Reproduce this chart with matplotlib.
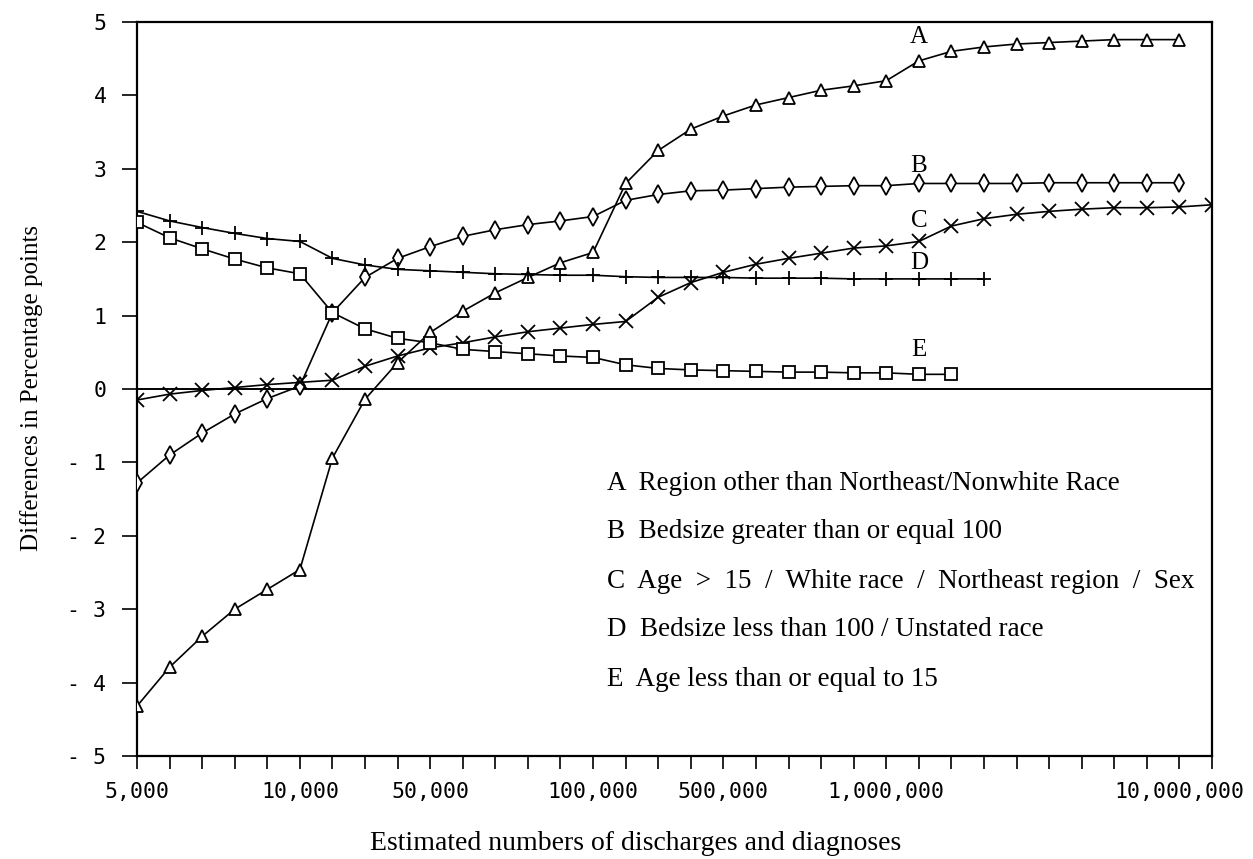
import numpy as np
import matplotlib
matplotlib.use("Agg")
import matplotlib.pyplot as plt

# ---- data ----
series_A = [-4.32, -3.79, -3.37, -3.00, -2.73, -2.46, -0.94, -0.14, 0.36, 0.77,
            1.06, 1.31, 1.52, 1.72, 1.86, 2.80, 3.25, 3.54, 3.72, 3.87,
            3.97, 4.07, 4.13, 4.20, 4.47, 4.60, 4.66, 4.70, 4.72, 4.74,
            4.76, 4.76, 4.76]
series_B = [-1.28, -0.90, -0.60, -0.34, -0.13, 0.04, 1.04, 1.52, 1.78, 1.94,
            2.08, 2.17, 2.24, 2.29, 2.35, 2.57, 2.65, 2.70, 2.71, 2.73,
            2.75, 2.76, 2.77, 2.77, 2.80, 2.80, 2.80, 2.80, 2.81, 2.81,
            2.81, 2.81, 2.81]
series_C = [-0.15, -0.07, -0.02, 0.02, 0.06, 0.09, 0.12, 0.31, 0.45, 0.56,
            0.63, 0.71, 0.78, 0.83, 0.88, 0.92, 1.25, 1.45, 1.59, 1.70,
            1.78, 1.85, 1.92, 1.95, 2.01, 2.22, 2.32, 2.38, 2.42, 2.45,
            2.47, 2.47, 2.48, 2.51]
series_D = [2.42, 2.29, 2.20, 2.12, 2.05, 2.01, 1.78, 1.69, 1.63, 1.61,
            1.59, 1.57, 1.56, 1.55, 1.55, 1.53, 1.52, 1.52, 1.52, 1.51,
            1.51, 1.51, 1.50, 1.50, 1.50, 1.50, 1.50]
series_E = [2.27, 2.06, 1.91, 1.77, 1.65, 1.57, 1.04, 0.82, 0.69, 0.63,
            0.54, 0.51, 0.48, 0.45, 0.43, 0.33, 0.28, 0.26, 0.25, 0.24,
            0.23, 0.23, 0.22, 0.22, 0.20, 0.20]

n_ticks = 34
tick_label_pos = [0, 5, 9, 14, 18, 23, 32]
tick_labels = ["5,000", "10,000", "50,000", "100,000", "500,000", "1,000,000", "10,000,000"]
y_ticks = [5, 4, 3, 2, 1, 0, -1, -2, -3, -4, -5]
y_tick_labels = ["5", "4", "3", "2", "1", "0", "- 1", "- 2", "- 3", "- 4", "- 5"]

curve_letters = ["A", "B", "C", "D", "E"]
curve_letter_y = [4.80, 3.04, 2.29, 1.72, 0.53]
legend_texts = ["A  Region other than Northeast/Nonwhite Race",
                "B  Bedsize greater than or equal 100",
                "C  Age  >  15  /  White race  /  Northeast region  /  Sex",
                "D  Bedsize less than 100 / Unstated race",
                "E  Age less than or equal to 15"]

serif = ["Liberation Serif", "DejaVu Serif"]
mono = ["DejaVu Sans Mono"]

fig = plt.figure(figsize=(12.53, 8.59), dpi=100)
ax = fig.add_axes([137/1253, 1-756/859, (1212-137)/1253, (756-22)/859])

lw = 1.2
common = dict(color="black", lw=lw, markerfacecolor="white", markeredgecolor="black",
              markeredgewidth=1.3, zorder=3)
ax.plot(np.arange(len(series_A)), series_A, marker="^", ms=9, **common)
ax.plot(np.arange(len(series_B)), series_B, marker="d", ms=9, **common)
ax.plot(np.arange(len(series_C)), series_C, marker="x", ms=10, **common)
ax.plot(np.arange(len(series_D)), series_D, marker="+", ms=10, **common)
ax.plot(np.arange(len(series_E)), series_E, marker="s", ms=9, **common)

ax.axhline(0, color="black", lw=1.4, zorder=2)

ax.set_xlim(0, n_ticks - 1)
ax.set_ylim(-5, 5)

ax.set_xticks(np.arange(n_ticks))
labels = [""] * n_ticks
for p, l in zip(tick_label_pos, tick_labels):
    labels[p] = l
ax.set_xticklabels(labels, family=mono, fontsize=15.5)
ax.set_yticks(y_ticks)
ax.set_yticklabels(y_tick_labels, family=mono, fontsize=15.5)
ax.tick_params(axis="both", direction="out", width=1.2, color="black")
ax.tick_params(axis="x", length=9, pad=10)
ax.tick_params(axis="y", length=11, pad=11)
for s in ax.spines.values():
    s.set_linewidth(1.6)
    s.set_color("black")

for letter, yv in zip(curve_letters, curve_letter_y):
    ax.text(24, yv, letter, family=serif, fontsize=18, ha="center", va="center")

leg_y = [483, 532, 581, 630, 679]
for txt, yp in zip(legend_texts, leg_y):
    fig.text(607/1253, 1 - yp/859, txt, family=serif, fontsize=19.5, ha="left", va="center")

fig.text(32/1253, 1 - 388/859, "Differences in Percentage points", family=serif,
         fontsize=18, rotation=90, ha="center", va="center")
fig.text(636/1253, 1 - 843/859, "Estimated numbers of discharges and diagnoses",
         family=serif, fontsize=20, ha="center", va="center")

fig.savefig("out.png", dpi=100, facecolor="white")
